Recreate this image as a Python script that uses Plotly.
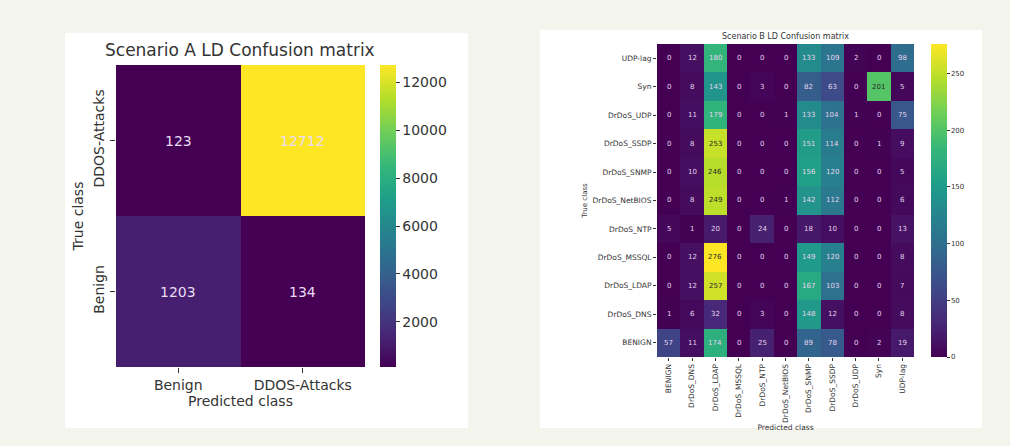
import plotly.graph_objects as go

# ---------------- data ----------------
a_pred = ["Benign", "DDOS-Attacks"]
a_true = ["DDOS-Attacks", "Benign"]  # top to bottom
a_values = [[123, 12712],
            [1203, 134]]

b_pred = ["BENIGN", "DrDoS_DNS", "DrDoS_LDAP", "DrDoS_MSSQL", "DrDoS_NTP", "DrDoS_NetBIOS",
          "DrDoS_SNMP", "DrDoS_SSDP", "DrDoS_UDP", "Syn", "UDP-lag"]
b_true = ["UDP-lag", "Syn", "DrDoS_UDP", "DrDoS_SSDP", "DrDoS_SNMP", "DrDoS_NetBIOS",
          "DrDoS_NTP", "DrDoS_MSSQL", "DrDoS_LDAP", "DrDoS_DNS", "BENIGN"]  # top to bottom
b_values = [
    [0, 12, 180, 0, 0, 0, 133, 109, 2, 0, 98],
    [0, 8, 143, 0, 3, 0, 82, 63, 0, 201, 5],
    [0, 11, 179, 0, 0, 1, 133, 104, 1, 0, 75],
    [0, 8, 253, 0, 0, 0, 151, 114, 0, 1, 9],
    [0, 10, 246, 0, 0, 0, 156, 120, 0, 0, 5],
    [0, 8, 249, 0, 0, 1, 142, 112, 0, 0, 6],
    [5, 1, 20, 0, 24, 0, 18, 10, 0, 0, 13],
    [0, 12, 276, 0, 0, 0, 149, 120, 0, 0, 8],
    [0, 12, 257, 0, 0, 0, 167, 103, 0, 0, 7],
    [1, 6, 32, 0, 3, 0, 148, 12, 0, 0, 8],
    [57, 11, 174, 0, 25, 0, 89, 78, 0, 2, 19],
]
a_cb_ticks = [2000, 4000, 6000, 8000, 10000, 12000]
b_cb_ticks = [0, 50, 100, 150, 200, 250]

W, H = 1010, 446
FONT = "DejaVu Sans"
TXT = "#333333"


def px(x):
    return x / W


def py(y):
    return 1 - y / H


fig = go.Figure()

fig.add_trace(go.Heatmap(
    z=a_values, x=a_pred, y=a_true, colorscale="Viridis",
    xaxis="x", yaxis="y", showscale=True,
    colorbar=dict(x=px(380), xanchor="left", xpad=0, ypad=0, thickness=16,
                  len=302, lenmode="pixels", y=py(216), yanchor="middle",
                  outlinewidth=0, tickvals=a_cb_ticks, tickformat="d",
                  ticks="outside", ticklen=4,
                  tickcolor=TXT, tickfont=dict(size=14, color=TXT, family=FONT)),
    hoverinfo="skip",
))

fig.add_trace(go.Heatmap(
    z=b_values, x=b_pred, y=b_true, colorscale="Viridis",
    xaxis="x2", yaxis="y2", showscale=True,
    colorbar=dict(x=px(931), xanchor="left", xpad=0, ypad=0, thickness=16,
                  len=313, lenmode="pixels", y=py(200.5), yanchor="middle",
                  outlinewidth=0, tickvals=b_cb_ticks, tickformat="d",
                  ticks="outside", ticklen=3,
                  tickcolor=TXT, tickfont=dict(size=7, color=TXT, family=FONT)),
    hoverinfo="skip",
))

annotations = []
for i, row in enumerate(a_values):
    for j, v in enumerate(row):
        annotations.append(dict(x=a_pred[j], y=a_true[i], xref="x", yref="y", text=str(v),
                                showarrow=False,
                                font=dict(size=14, family=FONT, color="#eadcf2")))
bmax = max(max(r) for r in b_values)
for i, row in enumerate(b_values):
    for j, v in enumerate(row):
        col = "#262626" if v / bmax > 0.68 else "#e6d4f0"
        annotations.append(dict(x=b_pred[j], y=b_true[i], xref="x2", yref="y2", text=str(v),
                                showarrow=False, font=dict(size=7, family=FONT, color=col)))

annotations.append(dict(x=px(240), y=py(50), xref="paper", yref="paper",
                        xanchor="center", yanchor="middle",
                        text="Scenario A LD Confusion matrix", showarrow=False,
                        font=dict(size=17, family=FONT, color=TXT)))
annotations.append(dict(x=px(785), y=py(36), xref="paper", yref="paper",
                        xanchor="center", yanchor="middle",
                        text="Scenario B LD Confusion matrix", showarrow=False,
                        font=dict(size=8, family=FONT, color=TXT)))

shapes = [
    dict(type="rect", xref="paper", yref="paper", x0=px(65), x1=px(468), y0=py(428), y1=py(33),
         fillcolor="white", line=dict(width=0), layer="below"),
    dict(type="rect", xref="paper", yref="paper", x0=px(540), x1=px(982), y0=py(428), y1=py(30),
         fillcolor="white", line=dict(width=0), layer="below"),
]

fig.update_layout(
    width=W, height=H,
    margin=dict(l=0, r=0, t=0, b=0, pad=0, autoexpand=False),
    paper_bgcolor="#f3f4ec",
    plot_bgcolor="rgba(0,0,0,0)",
    font=dict(family=FONT, color=TXT),
    annotations=annotations,
    shapes=shapes,
    xaxis=dict(domain=[px(116), px(365)], anchor="y", showgrid=False, zeroline=False,
               automargin=False,
               ticks="outside", ticklen=5, tickcolor=TXT,
               tickfont=dict(size=14, family=FONT, color=TXT),
               title=dict(text="Predicted class", font=dict(size=14, family=FONT, color=TXT),
                          standoff=2)),
    yaxis=dict(domain=[py(367), py(65)], anchor="x", showgrid=False, zeroline=False,
               automargin=False,
               autorange="reversed", tickangle=-90,
               ticks="outside", ticklen=5, tickcolor=TXT,
               tickfont=dict(size=14, family=FONT, color=TXT),
               title=dict(text="True class", font=dict(size=14, family=FONT, color=TXT),
                          standoff=4)),
    xaxis2=dict(domain=[px(657), px(914)], anchor="y2", showgrid=False, zeroline=False,
                automargin=False,
                tickangle=-90, ticks="outside", ticklen=3, tickcolor=TXT,
                tickfont=dict(size=7.5, family=FONT, color=TXT),
                title=dict(text="Predicted class", font=dict(size=7.5, family=FONT, color=TXT),
                           standoff=1)),
    yaxis2=dict(domain=[py(357), py(44)], anchor="x2", showgrid=False, zeroline=False,
                automargin=False,
                autorange="reversed", ticks="outside", ticklen=3, tickcolor=TXT,
                tickfont=dict(size=7.5, family=FONT, color=TXT),
                title=dict(text="True class", font=dict(size=7, family=FONT, color=TXT),
                           standoff=4)),
)

fig.write_html("out.html", config={"displayModeBar": False},
               post_script="document.body.style.margin='0';document.body.style.background='#f3f4ec';")
